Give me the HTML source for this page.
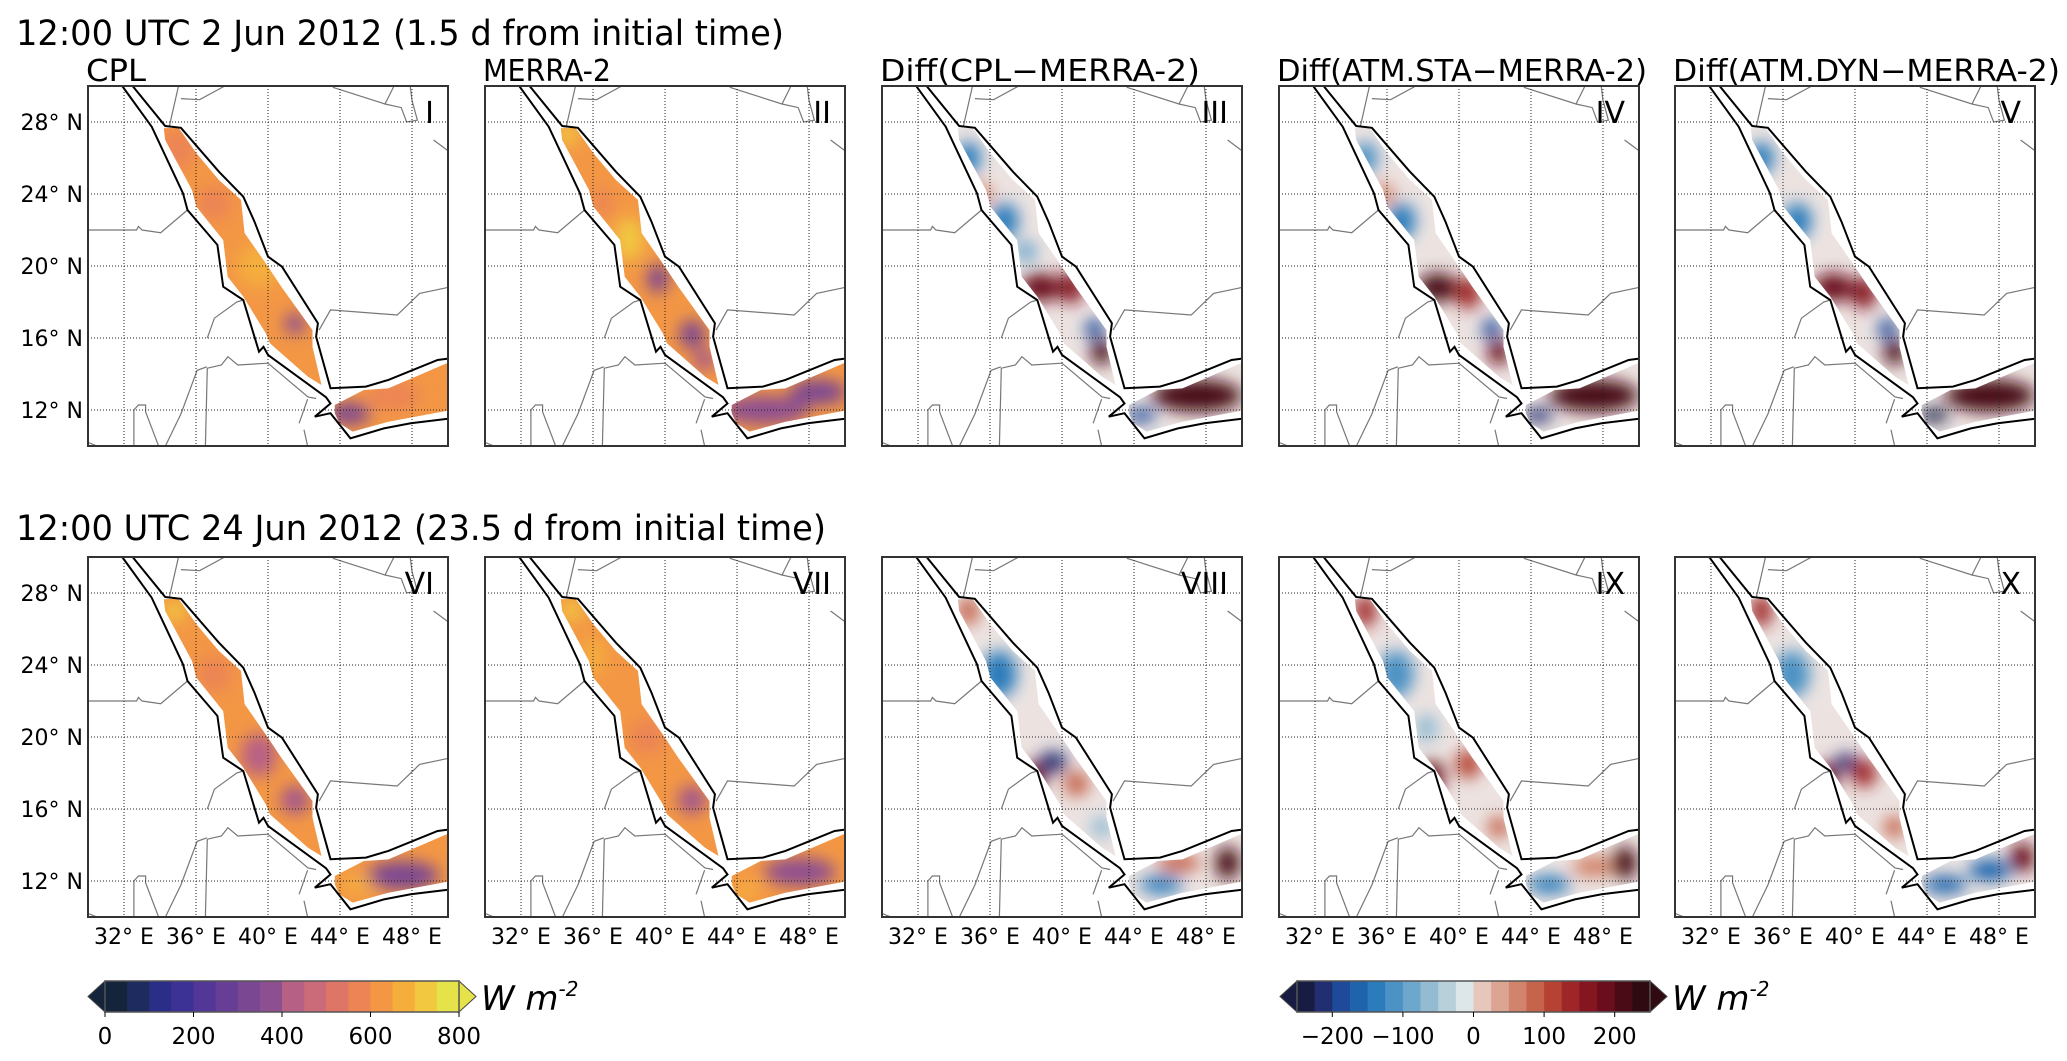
<!DOCTYPE html>
<html><head><meta charset="utf-8"><style>
html,body{margin:0;padding:0;background:#fff;}
svg{display:block;font-family:"DejaVu Sans","Liberation Sans",sans-serif;}
</style></head><body>
<svg id="fig" width="2067" height="1061" viewBox="0 0 2067 1061" xmlns="http://www.w3.org/2000/svg">
<defs>
<filter id="blur" x="-50%" y="-50%" width="200%" height="200%"><feGaussianBlur stdDeviation="8"/></filter>
</defs>
<rect width="2067" height="1061" fill="#fff"/>
<text x="16" y="45" font-size="35" textLength="768" lengthAdjust="spacingAndGlyphs">12:00 UTC 2 Jun 2012 (1.5 d from initial time)</text>
<text x="16" y="540" font-size="35" textLength="810" lengthAdjust="spacingAndGlyphs">12:00 UTC 24 Jun 2012 (23.5 d from initial time)</text>
<g id="panels"></g>
<g id="cbars"></g>
</svg>
<script>
// ---- data arrays ----
const panelCols = [88, 485, 882, 1279, 1675];
const rowTops = [86, 557];
const subtitles = ["CPL", "MERRA-2", "Diff(CPL\u2212MERRA-2)", "Diff(ATM.STA\u2212MERRA-2)", "Diff(ATM.DYN\u2212MERRA-2)"];
const subtitleWidths = [60, 128, 320, 370, 387];
const panelLabels = [["I","II","III","IV","V"],["VI","VII","VIII","IX","X"]];
const latTicks = [28, 24, 20, 16, 12];
const lonTicks = [32, 36, 40, 44, 48];
const absLevels = [0,50,100,150,200,250,300,350,400,450,500,550,600,650,700,750,800];
const absColors = ["#14243a","#1d2b5e","#2b2e86","#3c3195","#523798","#663e96","#7a4793","#8e4f90","#a2578c","#b76085","#cb6a79","#de7667","#ec8455","#f39745","#f5ae3c","#f1c83f","#e6e24a"];
const absTickLabels = [0,200,400,600,800];
const diffLevels = [-250,-225,-200,-175,-150,-125,-100,-75,-50,-25,0,25,50,75,100,125,150,175,200,225,250];
const diffColors = ["#181c43","#222e72","#1f4a9a","#1f63ad","#2c7bbb","#4c92c4","#6ea7cc","#93bcd3","#b8d0da","#dde6e8","#f1e6e2","#e7c7bb","#dca591","#d1846b","#c5634b","#b54233","#9f2628","#851620","#6a0e1d","#4a0b17","#2f0a10"];
const diffTickLabels = [-200,-100,0,100,200];
const coastOutline = [[32.48,30],[34.29,27.78],[35.16,27.68],[37.27,25.24],[38.63,23.85],[39.25,22.46],[40.0,20.52],[40.78,19.96],[42.77,16.82],[42.67,16.07],[43.47,13.21],[45.44,13.30],[46.69,13.67],[49.42,14.78],[50.2,14.88],[50.2,11.54],[47.93,11.26],[46.44,10.98],[44.58,10.43],[43.47,11.82],[42.6,11.63],[43.47,12.36],[43.22,12.71],[40.0,15.06],[39.75,15.51],[39.5,15.24],[38.63,18.11],[37.51,18.85],[37.19,21.17],[35.53,23.11],[35.28,24.04],[33.54,27.74],[31.9,30]];
const redSeaMask = [[34.21,27.65],[35.03,27.68],[36.02,26.26],[37.27,24.78],[38.5,23.67],[38.7,21.83],[40.0,19.96],[40.74,18.85],[42.47,16.44],[42.47,15.51],[42.97,13.39],[42.22,13.85],[40.11,15.7],[39.87,16.27],[38.63,18.3],[37.76,19.4],[37.51,21.44],[36.02,23.3],[35.78,24.22],[34.29,27.0]];
const adenMask = [[43.71,12.28],[45.32,13.11],[46.69,13.2],[49.91,14.59],[50.2,14.59],[50.2,12.0],[46.69,11.35],[44.7,10.8],[43.96,11.26],[43.71,11.82]];
const borders = [
 [[30,22],[32.7,22],[32.8,22.2],[33,22],[34.04,21.85],[35.53,23.11]],
 [[35.03,30],[34.53,27.8]],
 [[35.16,29.3],[36.2,29.24],[37.6,30]],
 [[43.6,29.93],[46.5,29.0],[47.0,30]],
 [[46.5,29.0],[47.4,28.8],[47.7,28.0],[48.3,28.1],[48.0,29.2],[47.9,30]],
 [[49.2,27.0],[50,26.4]],
 [[42.84,16.44],[43.47,17.56],[47.18,17.28],[48.42,18.48],[50,18.81]],
 [[36.52,10],[36.63,14.32],[37.41,14.5],[37.77,14.96],[38.32,14.5],[40.0,14.6],[42.22,12.72],[42.67,12.64]],
 [[32.55,10],[32.55,12.0],[32.8,12.28],[33.2,12.28],[33.2,11.9],[33.92,10]],
 [[34.3,10],[35.16,11.78],[36.06,14.2],[36.6,14.4]],
 [[36.63,16.0],[37.02,17.1],[38.26,18.0],[38.63,18.11]],
 [[41.73,11.26],[42.2,12.6]],[[42.2,10],[42.0,10.9]],
 [[30,10.2],[30.5,10]]
];
const baseVals = [[660,660,0,0,0],[660,660,0,0,0]];
const blobs = [
 [ [[35,26.5,1,1.2,620],[37,23.5,1,1,600],[39.5,20,1.2,1.2,700],[41.5,16.8,0.6,0.6,380],[44.5,11.8,1.2,0.6,330],[47,12.8,1.5,0.8,600]],
   [[34.6,27.3,0.6,0.6,780],[36.5,23.5,0.6,0.8,600],[38,21.5,0.8,1.2,760],[39.6,19.3,0.6,0.8,340],[41.5,16.2,0.7,0.8,300],[42.2,14.8,0.6,0.6,420],[45.5,12,2.5,0.8,350],[48.5,13,1.6,0.7,330]],
   [[34.8,26,0.7,0.9,-130],[35.5,24,0.6,0.6,80],[36.8,22.5,0.8,1,-150],[38,20.8,0.6,0.6,-90],[38.8,18.8,1.1,0.8,220],[40.5,18.8,0.7,0.9,180],[41.8,16.5,0.5,0.6,-180],[42.2,15.2,0.6,0.7,230],[44.4,11.7,0.8,0.4,-200],[47.5,12.8,2.5,0.9,230]],
   [[34.8,26,0.7,0.9,-120],[35.8,24,0.6,0.6,90],[36.8,22.5,0.8,1,-150],[38.8,18.8,1.1,0.8,230],[40.5,18.5,0.7,0.9,160],[41.8,16.5,0.5,0.6,-200],[42.2,15.2,0.6,0.7,220],[44.4,11.7,0.8,0.4,-220],[47.5,12.8,2.5,0.9,230]],
   [[34.8,26,0.7,0.9,-140],[36.8,22.5,0.8,1,-150],[38.8,18.8,1.1,0.8,220],[40.5,18.5,0.7,0.9,180],[41.8,16.5,0.5,0.6,-180],[42.2,15.2,0.6,0.7,230],[44.4,11.7,0.8,0.4,-230],[47.5,12.8,2.5,0.9,240]] ],
 [ [[34.8,27,0.6,0.6,760],[37,23.5,1,1,600],[39.5,19,1,1.2,450],[41.5,16.5,0.8,0.8,420],[45,11.8,1,0.5,700],[47.5,12.3,2,0.8,330]],
   [[34.8,27,0.6,0.6,760],[36,24.5,0.7,1,720],[39,20,1,1,620],[41.5,16.5,0.8,0.8,420],[44.5,11.5,0.8,0.5,720],[47.5,12.5,2,0.8,350]],
   [[34.8,27,0.6,0.8,100],[36.5,23.5,1,1.3,-130],[39.5,18.6,0.8,0.6,-220],[38.5,17.8,0.6,0.8,200],[40.8,17.4,0.7,0.7,120],[42.2,15,0.6,0.6,-60],[45.5,11.8,1.2,0.5,-150],[46.5,13,1.2,0.5,120],[49.2,13,0.7,0.9,230]],
   [[34.8,27,0.6,0.9,160],[36.5,23.5,1,1.3,-120],[38.2,20.5,0.6,0.8,-60],[38.5,17.8,0.7,0.9,210],[40.5,18.5,0.7,0.8,140],[42.2,15,0.6,0.6,120],[45,11.8,1.2,0.5,-150],[47.5,12.8,1.2,0.6,80],[49.2,13,0.7,0.9,240]],
   [[34.8,27,0.6,0.9,150],[36.5,23.5,1,1.3,-120],[39.5,18.6,0.6,0.5,-220],[38.5,17.8,0.6,0.8,210],[40.5,18.0,0.7,0.8,160],[42.2,15,0.6,0.6,120],[45,11.8,1.2,0.5,-160],[47.5,12.6,1.2,0.6,-170],[49.3,13.3,0.7,0.8,220]] ]
];
// ---- helpers ----
const NS = "http://www.w3.org/2000/svg";
function mk(tag, attrs, parent){const e=document.createElementNS(NS,tag);for(const k in attrs)e.setAttribute(k,attrs[k]);if(parent)parent.appendChild(e);return e;}
const PX = 18;
function lonX(x0, lon){return x0 + (lon-30)*PX;}
function latY(y0, lat){return y0 + (30-lat)*PX;}
function colorFor(v, levels, colors){for(let i=levels.length-1;i>=0;i--){if(v>=levels[i])return colors[Math.min(i,colors.length-1)];}return colors[0];}
function pts(x0,y0,arr){return arr.map(p=>lonX(x0,p[0]).toFixed(1)+","+latY(y0,p[1]).toFixed(1)).join(" ");}
const panelsG = document.getElementById("panels");
for(let r=0;r<2;r++){
 for(let c=0;c<5;c++){
  const x0=panelCols[c], y0=rowTops[r];
  const isDiff = c>=2;
  const g=mk("g",{},panelsG);
  
  
  const cid="clip"+r+c;
  const cp=mk("clipPath",{id:cid},g); mk("rect",{x:x0,y:y0,width:360,height:360},cp);
  const mid="mask"+r+c;
  const mcp=mk("clipPath",{id:mid},g);
  mk("polygon",{points:pts(x0,y0,redSeaMask)},mcp);
  mk("polygon",{points:pts(x0,y0,adenMask)},mcp);
  const inner=mk("g",{"clip-path":"url(#"+cid+")"},g);
  const field=mk("g",{"clip-path":"url(#"+mid+")"},inner);
  
  
  const baseC = isDiff ? "#ece3e1" : colorFor(baseVals[r][c],absLevels,absColors);
  mk("rect",{x:x0,y:y0,width:360,height:360,fill:baseC},field);
  const bg=mk("g",{filter:"url(#blur)"},field);
  blobs[r][c].forEach(b=>{
   const col = isDiff ? colorFor(b[4],diffLevels,diffColors) : colorFor(b[4],absLevels,absColors);
   const el=mk("ellipse",{cx:lonX(x0,b[0]),cy:latY(y0,b[1]),rx:b[2]*PX,ry:b[3]*PX,fill:col},bg);
   
   
  });
  borders.forEach(bd=>{const l=mk("polyline",{points:pts(x0,y0,bd),fill:"none",stroke:"#777","stroke-width":1.2},inner);
   
   });
  lonTicks.forEach(lo=>{const l=mk("line",{x1:lonX(x0,lo),x2:lonX(x0,lo),y1:y0,y2:y0+360,stroke:"#222","stroke-width":1,"stroke-dasharray":"1,2"},inner);
   
   });
  latTicks.forEach(la=>{const l=mk("line",{x1:x0,x2:x0+360,y1:latY(y0,la),y2:latY(y0,la),stroke:"#222","stroke-width":1,"stroke-dasharray":"1,2"},inner);
   
   });
  const co=mk("polygon",{points:pts(x0,y0,coastOutline),fill:"none",stroke:"#000","stroke-width":2},inner);
  
  
  const fr=mk("rect",{x:x0,y:y0,width:360,height:360,fill:"none",stroke:"#333","stroke-width":2},g);
  
  
  const pl=mk("text",{x:x0+346,y:y0+37,"font-size":30,"text-anchor":"end"},g);
  pl.textContent=panelLabels[r][c];
  
  
  if(r===0){
   const st=mk("text",{x:x0-2,y:81,"font-size":30,textLength:subtitleWidths[c],lengthAdjust:"spacingAndGlyphs"},panelsG);
   st.textContent=subtitles[c];
   
   
  }
  if(c===0){
   latTicks.forEach(la=>{const t=mk("text",{x:x0-5,y:latY(y0,la)+8,"font-size":22,"text-anchor":"end"},panelsG);
    t.textContent=la+"\u00b0 N";
    
    });
  }
  if(r===1){
   lonTicks.forEach(lo=>{const t=mk("text",{x:lonX(x0,lo),y:944,"font-size":22,"text-anchor":"middle"},panelsG);
    t.textContent=lo+"\u00b0 E";
    
    });
  }
 }
}
const cb=document.getElementById("cbars");
function colorbar(name, x0, x1, levels, colors, ticks){
 const g=mk("g",{},cb);
 
 
 const y0=981,y1=1012,ym=(y0+y1)/2,tip=17;
 const lo=levels[0],hi=levels[levels.length-1];
 const sx=v=>x0+(v-lo)/(hi-lo)*(x1-x0);
 const nb=levels.length-1;
 mk("polygon",{points:`${x0},${y0} ${x0-tip},${ym} ${x0},${y1}`,fill:colors[0],stroke:"#444","stroke-width":1},g);
 mk("polygon",{points:`${x1},${y0} ${x1+tip},${ym} ${x1},${y1}`,fill:colors[colors.length-1],stroke:"#444","stroke-width":1},g);
 for(let i=0;i<nb;i++){
  const c = colors.length>nb ? colors[Math.round(i*(colors.length-1)/(nb-1))] : colors[i];
  const seg=mk("rect",{x:sx(levels[i]),y:y0,width:sx(levels[i+1])-sx(levels[i])+0.6,height:y1-y0,fill:c},g);
  
  
 }
 mk("rect",{x:x0,y:y0,width:x1-x0,height:y1-y0,fill:"none",stroke:"#555","stroke-width":1.5},g);
 ticks.forEach(t=>{
  mk("line",{x1:sx(t),x2:sx(t),y1:y1,y2:y1+5,stroke:"#000"},g);
  const tx=mk("text",{x:sx(t),y:1044,"font-size":23,"text-anchor":"middle"},g);
  tx.textContent=(t<0?"\u2212":"")+Math.abs(t);
  
  
 });
 const u=mk("text",{x:x1+22,y:1010,"font-size":34,"font-style":"italic"},g);
 
 
 u.innerHTML='W m<tspan font-size="20" dy="-14">-2</tspan>';
}
colorbar("flux-colorbar",105,459,absLevels,absColors,absTickLabels);
colorbar("diff-colorbar",1297,1650,diffLevels,diffColors,diffTickLabels);
</script>
</body></html>
